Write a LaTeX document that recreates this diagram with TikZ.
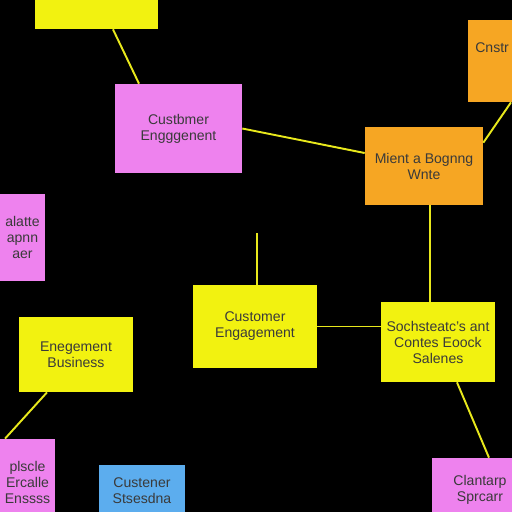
\documentclass[tikz,border=0pt]{standalone}
\usepackage{fontspec}
\setmainfont{Liberation Sans}
\definecolor{stickyyellow}{HTML}{F2F210}
\definecolor{stickypink}{HTML}{EE82EE}
\definecolor{stickyorange}{HTML}{F6A623}
\definecolor{stickyblue}{HTML}{5CADEE}
\definecolor{linkyellow}{HTML}{E8E81C}
\definecolor{ink}{HTML}{3A3A3A}
\tikzstyle{sticky}=[rectangle, inner sep=0pt, align=center, text=ink, font=\fontsize{8}{9.1}\selectfont]
\tikzstyle{yellow sticky}=[sticky, fill=stickyyellow]
\tikzstyle{pink sticky}=[sticky, fill=stickypink]
\tikzstyle{orange sticky}=[sticky, fill=stickyorange]
\tikzstyle{blue sticky}=[sticky, fill=stickyblue]
\tikzstyle{link}=[draw=linkyellow, line width=1.1pt]

\begin{document}
\begin{tikzpicture}[x=0.02cm, y=-0.02cm]
      \useasboundingbox (0, 0) rectangle (512, 512);
      \fill[black] (0, 0) rectangle (512, 512);
      \clip (0, 0) rectangle (512, 512);
      \node[yellow sticky, minimum width=2.46cm, minimum height=1.18cm] (top) at (96.5, -0.5) {};
      \node[pink sticky, minimum width=2.54cm, minimum height=1.78cm] (engage) at (178.5, 128.5) {Custbmer\\Engggenent};
      \node[orange sticky, minimum width=1.84cm, minimum height=1.64cm] (corner) at (514, 61) {};
      \node[sticky, anchor=west] (corner text) at (475, 48) {Cnstr};
      \node[orange sticky, minimum width=2.36cm, minimum height=1.56cm] (mient) at (424, 166) {Mient a Bognng\\Wnte};
      \node[pink sticky, minimum width=0.9cm, minimum height=1.74cm] (left) at (22.5, 237.5) {alatte\\apnn\\aer};
      \node[yellow sticky, minimum width=2.48cm, minimum height=1.66cm] (customer) at (255, 326.5) {Customer\\Engagement};
      \node[yellow sticky, minimum width=2.28cm, minimum height=1.6cm] (social) at (438, 342) {Sochsteatc's ant\\Contes Eoock\\Salenes};
      \node[yellow sticky, minimum width=2.28cm, minimum height=1.5cm] (business) at (76, 354.5) {Enegement\\Business};
      \node[pink sticky, minimum width=1.1cm, minimum height=1.72cm] (lower left) at (27.5, 482) {plscle\\Ercalle\\Enssss};
      \node[blue sticky, minimum width=1.72cm, minimum height=1.04cm] (blue) at (142, 491) {Custener\\Stsesdna};
      \node[pink sticky, minimum width=1.92cm, minimum height=1.28cm] (lower right) at (480, 490) {Clantarp\\Sprcarr};
      \coordinate (stub) at (257, 233);
      \draw[link] ([xshift=0.33cm]top.south) to ([xshift=-0.79cm]engage.north);
      \draw[link] (engage.east) to ([yshift=0.26cm]mient.west);
      \draw[link] ([xshift=-0.06cm]corner.south) to ([yshift=-0.32cm]mient.north east);
      \draw[link] ([xshift=0.12cm]mient.south) to ([xshift=0.12cm]mient.south |- social.north);
      \draw[link] (stub) to (stub |- customer.north);
      \draw[link] (customer.east) to (customer.east -| social.west);
      \draw[link] ([xshift=0.38cm]social.south) to ([xshift=0.18cm]lower right.north);
      \draw[link] ([xshift=-0.58cm]business.south) to ([xshift=-0.45cm]lower left.north);
    \end{tikzpicture}
\end{document}
